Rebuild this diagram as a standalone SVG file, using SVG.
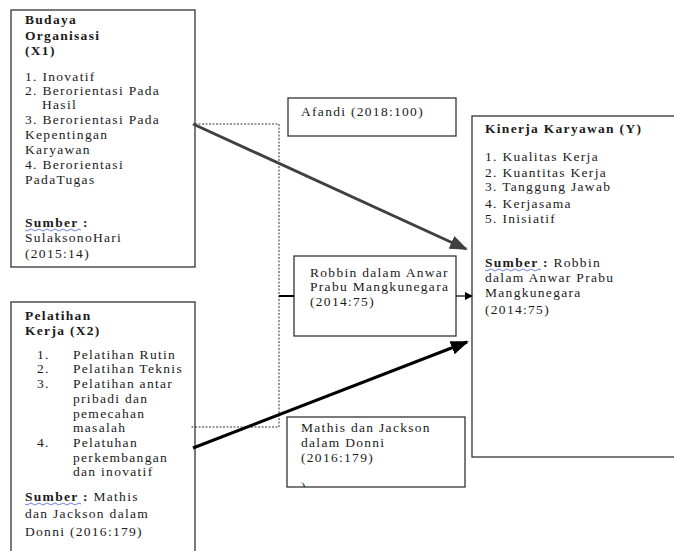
<svg xmlns="http://www.w3.org/2000/svg" width="674" height="551" viewBox="0 0 674 551" font-family="'Liberation Serif', 'DejaVu Serif', serif">
<style>
text{font-family:'Liberation Serif','DejaVu Serif',serif;font-size:13.5px;fill:#1a1a1a;letter-spacing:1.3px}
.b{font-weight:bold}
.box{fill:#fff;stroke:#333;stroke-width:1.3}
.wavy{fill:none;stroke:#4a5fd0;stroke-width:0.8}
</style>
<defs>
<marker id="ah" markerWidth="8" markerHeight="8" refX="7" refY="4" orient="auto" markerUnits="userSpaceOnUse" viewBox="0 0 8 8"><path d="M0,0 L8,4 L0,8 z" fill="#000"/></marker>
<marker id="ahg" markerWidth="18" markerHeight="14" refX="16" refY="7" orient="auto" markerUnits="userSpaceOnUse" viewBox="0 0 18 14"><path d="M0,0 L18,7 L0,14 z" fill="#404040"/></marker>
<marker id="ahk" markerWidth="18" markerHeight="14" refX="16" refY="7" orient="auto" markerUnits="userSpaceOnUse" viewBox="0 0 18 14"><path d="M0,0 L18,7 L0,14 z" fill="#000"/></marker>
<clipPath id="cr"><rect x="294" y="256" width="162" height="80"/></clipPath>
<clipPath id="cm"><rect x="287" y="417" width="178" height="70"/></clipPath>
</defs>

<g id="budaya">
<rect class="box" x="11" y="10" width="184" height="257"/>
<text class="b" x="25" y="24">Budaya</text>
<text class="b" x="25" y="40">Organisasi</text>
<text class="b" x="25" y="55">(X1)</text>
<text x="25" y="81">1. Inovatif</text>
<text x="25" y="95">2. Berorientasi Pada</text>
<text x="42" y="109">Hasil</text>
<text x="25" y="124">3. Berorientasi Pada</text>
<text x="25" y="139">Kepentingan</text>
<text x="25" y="154">Karyawan</text>
<text x="25" y="169">4. Berorientasi</text>
<text x="25" y="184">PadaTugas</text>
<text class="b" x="25" y="227">Sumber :</text>
<path class="wavy" d="M25,230 q2,2 4,0 t4,0 t4,0 t4,0 t4,0 t4,0 t4,0 t4,0 t4,0 t4,0 t4,0 t4,0 t4,0 t4,0"/>
<text x="25" y="242">SulaksonoHari</text>
<text x="25" y="258">(2015:14)</text>
</g>

<g id="pelatihan">
<rect class="box" x="11" y="302" width="184" height="260"/>
<text class="b" x="25" y="320">Pelatihan</text>
<text class="b" x="25" y="335">Kerja (X2)</text>
<text x="37" y="359">1.</text><text x="73" y="359">Pelatihan Rutin</text>
<text x="37" y="373">2.</text><text x="73" y="373">Pelatihan Teknis</text>
<text x="37" y="388">3.</text><text x="73" y="388">Pelatihan antar</text>
<text x="73" y="403">pribadi dan</text>
<text x="73" y="418">pemecahan</text>
<text x="73" y="432">masalah</text>
<text x="37" y="447">4.</text><text x="73" y="447">Pelatuhan</text>
<text x="73" y="462">perkembangan</text>
<text x="73" y="476">dan inovatif</text>
<text x="25" y="501"><tspan class="b">Sumber :</tspan> Mathis</text>
<path class="wavy" d="M25,504 q2,2 4,0 t4,0 t4,0 t4,0 t4,0 t4,0 t4,0 t4,0 t4,0 t4,0 t4,0 t4,0 t4,0 t4,0"/>
<text x="25" y="518">dan Jackson dalam</text>
<text x="25" y="536">Donni (2016:179)</text>
</g>

<g id="afandi">
<rect class="box" x="288" y="98" width="168" height="38"/>
<text x="301" y="116">Afandi (2018:100)</text>
</g>

<g id="robbin">
<rect class="box" x="294" y="256" width="162" height="80"/>
<g clip-path="url(#cr)">
<text x="310" y="277">Robbin dalam Anwar</text>
<text x="310" y="291">Prabu Mangkunegara</text>
<text x="310" y="306">(2014:75)</text>
</g>
</g>

<g id="mathis">
<rect class="box" x="287" y="417" width="178" height="70"/>
<g clip-path="url(#cm)">
<text x="301" y="432">Mathis dan Jackson</text>
<text x="301" y="447">dalam Donni</text>
<text x="301" y="462">(2016:179)</text>
<text x="301" y="491">)</text>
</g>
</g>

<g id="kinerja">
<rect class="box" x="472" y="116" width="210" height="341"/>
<text class="b" x="485" y="133">Kinerja Karyawan (Y)</text>
<text x="485" y="161">1. Kualitas Kerja</text>
<text x="485" y="177">2. Kuantitas Kerja</text>
<text x="485" y="191">3. Tanggung Jawab</text>
<text x="485" y="208">4. Kerjasama</text>
<text x="485" y="223">5. Inisiatif</text>
<text x="485" y="267"><tspan class="b">Sumber :</tspan> Robbin</text>
<path class="wavy" d="M485,270 q2,2 4,0 t4,0 t4,0 t4,0 t4,0 t4,0 t4,0 t4,0 t4,0 t4,0 t4,0 t4,0 t4,0 t4,0"/>
<text x="485" y="282">dalam Anwar Prabu</text>
<text x="485" y="297">Mangkunegara</text>
<text x="485" y="314">(2014:75)</text>
</g>

<g id="connectors">
<polyline points="195,124 279,124 279,427 190,427" fill="none" stroke="#333" stroke-width="1" stroke-dasharray="2,1.5"/>
<line x1="279" y1="296" x2="294" y2="296" stroke="#000" stroke-width="2"/>
<line x1="456" y1="296" x2="472" y2="296" stroke="#000" stroke-width="1.2" marker-end="url(#ah)"/>
<line x1="193" y1="124" x2="466" y2="249" stroke="#404040" stroke-width="3" marker-end="url(#ahg)"/>
<line x1="193" y1="448" x2="467" y2="342" stroke="#000" stroke-width="3" marker-end="url(#ahk)"/>
</g>
</svg>
